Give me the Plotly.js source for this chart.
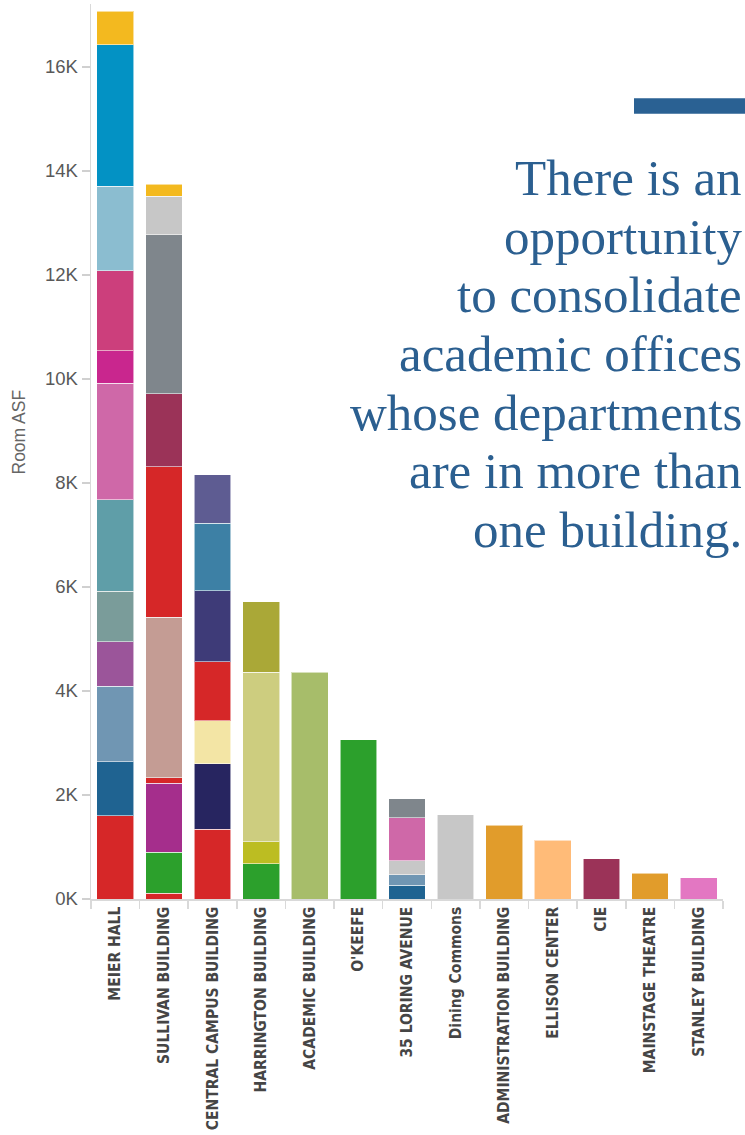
<!DOCTYPE html>
<html>
<head>
<meta charset="utf-8">
<script src="https://cdn.plot.ly/plotly-3.0.1.min.js"></script>
<style>
  html, body { margin: 0; padding: 0; background: #ffffff; }
  #chart { width: 745px; height: 1135px; }
</style>
</head>
<body>
<div id="chart"></div>
<script>
// ---- DATA (Room ASF per department segment, bottom to top) ----
const buildings = [
  "MEIER HALL", "SULLIVAN BUILDING", "CENTRAL CAMPUS BUILDING", "HARRINGTON BUILDING",
  "ACADEMIC BUILDING", "O'KEEFE", "35 LORING AVENUE", "Dining Commons",
  "ADMINISTRATION BUILDING", "ELLISON CENTER", "CIE", "MAINSTAGE THEATRE", "STANLEY BUILDING"
];
const meierHall       = [1600, 1040, 1450, 860, 970, 1760, 2240, 620, 1540, 1630, 2720, 640];
const sullivanBldg    = [115, 785, 1330, 100, 3090, 2890, 1410, 3050, 740, 230];
const centralCampus   = [1340, 1260, 830, 1130, 1370, 1300, 930];
const harringtonBldg  = [680, 420, 3260, 1360];
const academicBldg    = [4360];
const okeefe          = [3060];
const loringAvenue    = [260, 210, 270, 820, 370];
const diningCommons   = [1620];
const adminBldg       = [1420];
const ellisonCenter   = [1130];
const cie             = [770];
const mainstageTheatre= [500];
const stanleyBldg     = [410];
const yTickValues = [0, 2000, 4000, 6000, 8000, 10000, 12000, 14000, 16000];
const yTickLabels = ["0K", "2K", "4K", "6K", "8K", "10K", "12K", "14K", "16K"];
const yAxisTitle = "Room ASF";
const headlineLines = [
  "There is an", "opportunity", "to consolidate", "academic offices",
  "whose departments", "are in more than", "one building."
];

// ---- STYLES (segment colours, bottom to top) ----
const RED = "#d62728", DKBLUE = "#1f6391", STEEL = "#7096b3", GREEN = "#2ca02c",
      LTGREY = "#c7c7c7", GREY = "#7f868c", YELLOW = "#f3b91f", ORCHID = "#cf68a8",
      WINE = "#9b3358", ORANGE = "#e19c2b";
const meierColors      = [RED, DKBLUE, STEEL, "#9b559a", "#7a9c9a", "#5f9ea8", ORCHID, "#c9268e", "#cc3f7c", "#8bbdd0", "#0392c4", YELLOW];
const sullivanColors   = [RED, GREEN, "#a52e8c", RED, "#c49c94", RED, WINE, GREY, LTGREY, YELLOW];
const centralColors    = [RED, "#272560", "#f3e5a5", RED, "#3e3b78", "#3d80a5", "#5e5c92"];
const harringtonColors = [GREEN, "#bcbd22", "#cdcd7f", "#aaa837"];
const academicColors   = ["#a7bd6a"];
const okeefeColors     = [GREEN];
const loringColors     = [DKBLUE, STEEL, LTGREY, ORCHID, GREY];
const diningColors     = [LTGREY];
const adminColors      = [ORANGE];
const ellisonColors    = ["#ffbb78"];
const cieColors        = [WINE];
const mainstageColors  = [ORANGE];
const stanleyColors    = ["#e377c2"];

const stacks = [meierHall, sullivanBldg, centralCampus, harringtonBldg, academicBldg, okeefe,
  loringAvenue, diningCommons, adminBldg, ellisonCenter, cie, mainstageTheatre, stanleyBldg];
const stackColors = [meierColors, sullivanColors, centralColors, harringtonColors, academicColors,
  okeefeColors, loringColors, diningColors, adminColors, ellisonColors, cieColors, mainstageColors, stanleyColors];

// Build one trace per stack level
const maxLevels = Math.max(...stacks.map(s => s.length));
const traces = [];
for (let lvl = 0; lvl < maxLevels; lvl++) {
  traces.push({
    type: "bar",
    x: buildings,
    y: stacks.map(s => (lvl < s.length ? s[lvl] : null)),
    marker: {
      color: stackColors.map(c => (lvl < c.length ? c[lvl] : "rgba(0,0,0,0)")),
      line: { color: "rgba(255,255,255,0.55)", width: 1 }
    },
    hoverinfo: "x+y",
    showlegend: false
  });
}

// ---- LAYOUT ----
const L = 91, R = 22, T = 4, B = 236;
const W = 745, H = 1135;
const plotW = W - L - R, plotH = H - T - B;
const px2paperX = px => (px - L) / plotW;
const px2paperY = py => (H - B - py) / plotH;

const headlineCentersPx = [178, 237, 295, 354, 413, 471, 530];
const annotations = headlineLines.map((t, i) => ({
  text: t,
  xref: "paper", yref: "paper",
  x: px2paperX(744), y: px2paperY(headlineCentersPx[i]),
  xanchor: "right", yanchor: "middle",
  showarrow: false,
  font: { family: "Liberation Serif, DejaVu Serif, serif", size: 51, color: "#2b5f90" }
}));
annotations.push({
  text: yAxisTitle,
  xref: "paper", yref: "paper",
  x: px2paperX(18.5), y: px2paperY(432),
  xanchor: "center", yanchor: "middle",
  textangle: -90,
  showarrow: false,
  font: { family: "Liberation Sans, Arial, sans-serif", size: 17.5, color: "#666666" }
});

const layout = {
  width: W, height: H,
  margin: { l: L, r: R, t: T, b: B, pad: 0 },
  paper_bgcolor: "#ffffff",
  plot_bgcolor: "#ffffff",
  barmode: "stack",
  bargap: 0.245,
  showlegend: false,
  xaxis: {
    type: "category",
    tickangle: -90,
    tickfont: { family: "DejaVu Sans Condensed, Liberation Sans, Arial, sans-serif", size: 15.5, color: "#454545", weight: "bold" },
    showline: true, linecolor: "#d9d9d9", linewidth: 1.5,
    ticks: "outside", tickson: "boundaries", ticklen: 8, tickcolor: "#d9d9d9", tickwidth: 1.5,
    showgrid: false, zeroline: false, automargin: false
  },
  yaxis: {
    range: [0, 17210],
    tickvals: yTickValues, ticktext: yTickLabels,
    tickfont: { family: "Liberation Sans, Arial, sans-serif", size: 18.5, color: "#595959" },
    showline: true, linecolor: "#d9d9d9", linewidth: 1.5,
    ticks: "outside", ticklen: 8, tickcolor: "#d0d0d0", tickwidth: 1.5,
    showgrid: false, zeroline: false, automargin: false
  },
  shapes: [{
    type: "rect", xref: "paper", yref: "paper",
    x0: px2paperX(634), x1: px2paperX(745),
    y0: px2paperY(113.7), y1: px2paperY(98.3),
    fillcolor: "#2a6193", line: { width: 0 }
  }],
  annotations: annotations
};

Plotly.newPlot("chart", traces, layout, { displayModeBar: false, staticPlot: true });
</script>
</body>
</html>
